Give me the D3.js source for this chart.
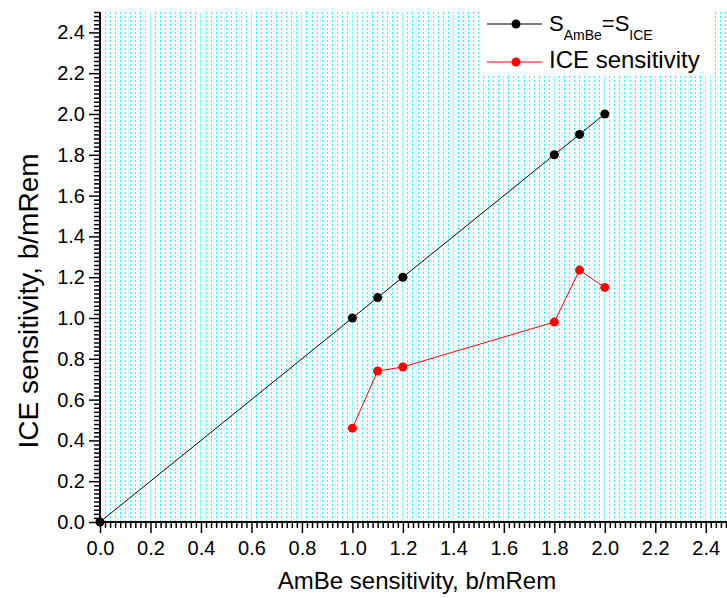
<!DOCTYPE html>
<html>
<head>
<meta charset="utf-8">
<script src="https://cdn.jsdelivr.net/npm/d3@7"></script>
<style>
  body { margin: 0; background: #fff; }
  svg, svg text { font-family: "Liberation Sans", Arial, sans-serif; }
</style>
</head>
<body>
<div id="chart"></div>
<script>
// data
var ambeX = [0, 1.0, 1.1, 1.2, 1.8, 1.9, 2.0]
var equalY = [0, 1.0, 1.1, 1.2, 1.8, 1.9, 2.0]
var iceX = [1.0, 1.1, 1.2, 1.8, 1.9, 2.0]
var iceY = [0.46, 0.74, 0.76, 0.98, 1.235, 1.15]
var tickLabels = ["0.0", "0.2", "0.4", "0.6", "0.8", "1.0", "1.2", "1.4", "1.6", "1.8", "2.0", "2.2", "2.4"]

var width = 727, height = 598

var x = d3.scaleLinear().domain([0, 2.5]).range([100, 731])
var y = d3.scaleLinear().domain([0, 2.5]).range([522, 12])

var svg = d3.select("#chart").append("svg")
    .attr("width", width)
    .attr("height", height)

// vertical grid: dotted every 0.02, solid every 0.2
var gridVals = d3.range(0, 126)
svg.append("g").attr("id", "grid")
    .selectAll("line")
    .data(gridVals)
    .enter()
    .append("line")
    .attr("x1", i => x(i * 0.02))
    .attr("x2", i => x(i * 0.02))
    .attr("y1", y(2.5))
    .attr("y2", y(0))
    .attr("stroke", i => i % 10 == 0 ? "#9ff" : "#1ef")
    .attr("stroke-opacity", i => i % 10 == 0 ? 1 : 0.85)
    .attr("stroke-width", 1)
    .attr("stroke-dasharray", i => i % 10 == 0 ? null : "2,2")
    .attr("shape-rendering", "crispEdges")

// legend background
svg.append("rect")
    .attr("x", 482).attr("y", 12)
    .attr("width", 230).attr("height", 64)
    .attr("fill", "#fff")

var line = d3.line().x(d => x(d[0])).y(d => y(d[1]))

var blackPts = ambeX.map((v, i) => [v, equalY[i]])
var redPts = iceX.map((v, i) => [v, iceY[i]])

svg.append("path").datum(blackPts)
    .attr("d", line).attr("fill", "none").attr("stroke", "#000").attr("stroke-width", 1)
svg.append("path").datum(redPts)
    .attr("d", line).attr("fill", "none").attr("stroke", "#f00").attr("stroke-width", 1)

svg.append("g").selectAll("circle").data(blackPts).enter().append("circle")
    .attr("cx", d => x(d[0])).attr("cy", d => y(d[1])).attr("r", 4.5).attr("fill", "#000")
svg.append("g").selectAll("circle").data(redPts).enter().append("circle")
    .attr("cx", d => x(d[0])).attr("cy", d => y(d[1])).attr("r", 4.5).attr("fill", "#f00")

// axes
var majors = tickLabels.map(t => +t)
var minors = d3.range(0, 126).filter(i => i % 10 != 0).map(i => i * 0.02)

function styleAxis(g) {
    g.attr("font-family", null)
    g.select(".domain").remove()
    g.selectAll(".tick line").attr("stroke", "#000").attr("stroke-width", 1.5)
    g.selectAll("text").attr("font-size", 20).attr("fill", "#000")
}

svg.append("g")
    .attr("transform", "translate(0," + y(0) + ")")
    .call(d3.axisBottom(x).tickValues(minors).tickSize(6).tickFormat(""))
    .call(styleAxis)
svg.append("g")
    .attr("transform", "translate(0," + y(0) + ")")
    .call(d3.axisBottom(x).tickValues(majors).tickSize(11).tickPadding(8)
        .tickFormat((d, i) => tickLabels[i]))
    .call(styleAxis)

svg.append("g")
    .attr("transform", "translate(" + x(0) + ",0)")
    .call(d3.axisLeft(y).tickValues(minors.filter(v => v <= 2.5)).tickSize(6).tickFormat(""))
    .call(styleAxis)
svg.append("g")
    .attr("transform", "translate(" + x(0) + ",0)")
    .call(d3.axisLeft(y).tickValues(majors).tickSize(11).tickPadding(4)
        .tickFormat((d, i) => tickLabels[i]))
    .call(styleAxis)

// axis lines
svg.append("line")
    .attr("x1", x(0)).attr("x2", width).attr("y1", y(0)).attr("y2", y(0))
    .attr("stroke", "#000").attr("stroke-width", 2)
svg.append("line")
    .attr("x1", x(0)).attr("x2", x(0)).attr("y1", y(2.5)).attr("y2", y(0) + 1)
    .attr("stroke", "#000").attr("stroke-width", 2)

// axis titles
svg.append("text")
    .attr("x", 417).attr("y", 589)
    .attr("text-anchor", "middle")
    .attr("font-size", 24)
    .text("AmBe sensitivity, b/mRem")

svg.append("text")
    .attr("transform", "translate(38,301) rotate(-90)")
    .attr("text-anchor", "middle")
    .attr("font-size", 28)
    .text("ICE sensitivity, b/mRem")

// legend
var leg = svg.append("g")
leg.append("line").attr("x1", 487).attr("x2", 542).attr("y1", 24).attr("y2", 24)
    .attr("stroke", "#000").attr("stroke-width", 1)
leg.append("circle").attr("cx", 516).attr("cy", 24).attr("r", 4.5).attr("fill", "#000")
leg.append("line").attr("x1", 487).attr("x2", 542).attr("y1", 62).attr("y2", 62)
    .attr("stroke", "#f00").attr("stroke-width", 1)
leg.append("circle").attr("cx", 516).attr("cy", 62).attr("r", 4.5).attr("fill", "#f00")

var t1 = leg.append("text").attr("x", 549).attr("y", 31).attr("font-size", 22)
t1.append("tspan").text("S")
t1.append("tspan").attr("font-size", 14).attr("dy", 9).text("AmBe")
t1.append("tspan").attr("dy", -9).text("=S")
t1.append("tspan").attr("font-size", 14).attr("dy", 9).text("ICE")

leg.append("text").attr("x", 549).attr("y", 68).attr("font-size", 24)
    .text("ICE sensitivity")
</script>
</body>
</html>
